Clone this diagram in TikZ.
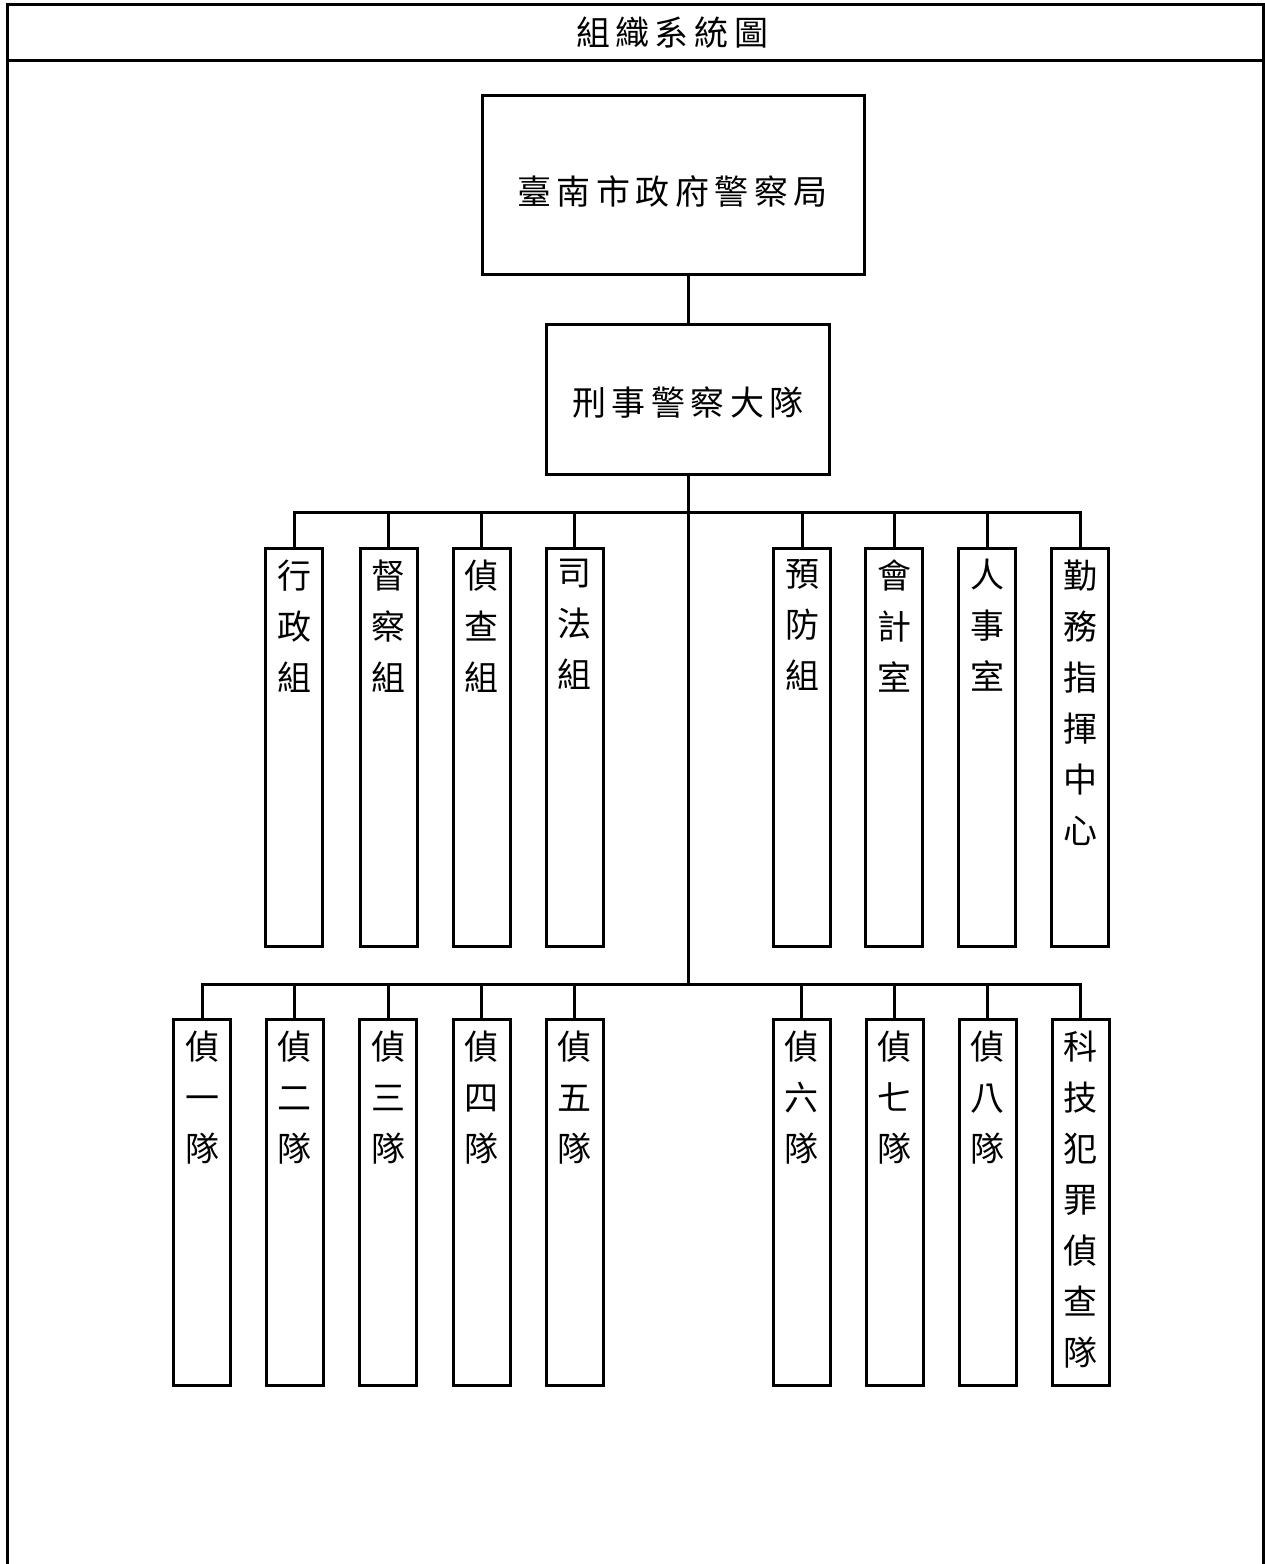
\documentclass[tikz,border=0pt]{standalone}
\usepackage{fontspec}
\setmainfont{Noto Sans CJK TC}
\usetikzlibrary{calc}
\newcommand{\gp}{\hspace{5.5pt}}
\begin{document}
\begin{tikzpicture}[x=1pt,y=-1pt,line width=3pt,
  box/.style={draw,rectangle,inner sep=0pt,line width=3pt},
  unit/.style={box,minimum width=57pt},
  hlabel/.style={inner sep=0pt,font=\fontsize{34}{40}\selectfont},
  vlabel/.style={inner sep=0pt,anchor=north,align=center,font=\fontsize{34}{51}\selectfont},
  conn/.style={line width=3pt,line cap=rect}]
\useasboundingbox (0,0) rectangle (1265,1564);
% frame
\draw[line width=3pt] (7,1570) -- (7,4.5) -- (1263,4.5) -- (1263,1570);
\draw[line width=3pt] (7,60.5) -- (1263,60.5);
\node[hlabel] (title) at (672,33) {組\gp 織\gp 系\gp 統\gp 圖};
% main boxes
\node[box,minimum width=382pt,minimum height=179pt] (hq) at (673.5,185) {};
\node[hlabel] (hqt) at (672.5,191) {臺\gp 南\gp 市\gp 政\gp 府\gp 警\gp 察\gp 局};
\node[box,minimum width=283pt,minimum height=150pt] (cib) at (688,399.5) {};
\node[hlabel] (cibt) at (688,403) {刑\gp 事\gp 警\gp 察\gp 大\gp 隊};
\coordinate (busA) at (688,512);
\coordinate (busB) at (688,984);
\draw[conn] (cib.north |- hq.south) -- (cib.north);
\draw[conn] (cib.south) -- (busB);
% top row
\foreach \n/\x/\t in {a1/294/{行\\政\\組},a2/388.5/{督\\察\\組},a3/481.5/{偵\\查\\組},a4/574.5/{司\\法\\組},
  a5/802/{預\\防\\組},a6/894/{會\\計\\室},a7/987/{人\\事\\室},a8/1080/{勤\\務\\指\\揮\\中\\心}}{
  \node[unit,minimum height=398pt] (\n) at (\x,747.5) {};
  \node[vlabel] (\n t) at ($(\n.north)+(0,11)$) {\t};
  \draw[conn] (\n.north) -- (\n.north |- busA);
}
\draw[conn] (a1.north |- busA) -- (a8.north |- busA);
% bottom row
\foreach \n/\x/\t in {b1/202/{偵\\一\\隊},b2/294.5/{偵\\二\\隊},b3/388/{偵\\三\\隊},b4/481.5/{偵\\四\\隊},b5/574.5/{偵\\五\\隊},
  b6/801.5/{偵\\六\\隊},b7/894.5/{偵\\七\\隊},b8/987.5/{偵\\八\\隊},b9/1080.5/{科\\技\\犯\\罪\\偵\\查\\隊}}{
  \node[unit,minimum height=366pt] (\n) at (\x,1202.5) {};
  \node[vlabel] (\n t) at ($(\n.north)+(0,11)$) {\t};
  \draw[conn] (\n.north) -- (\n.north |- busB);
}
\draw[conn] (b1.north |- busB) -- (b9.north |- busB);
\end{tikzpicture}
\end{document}
